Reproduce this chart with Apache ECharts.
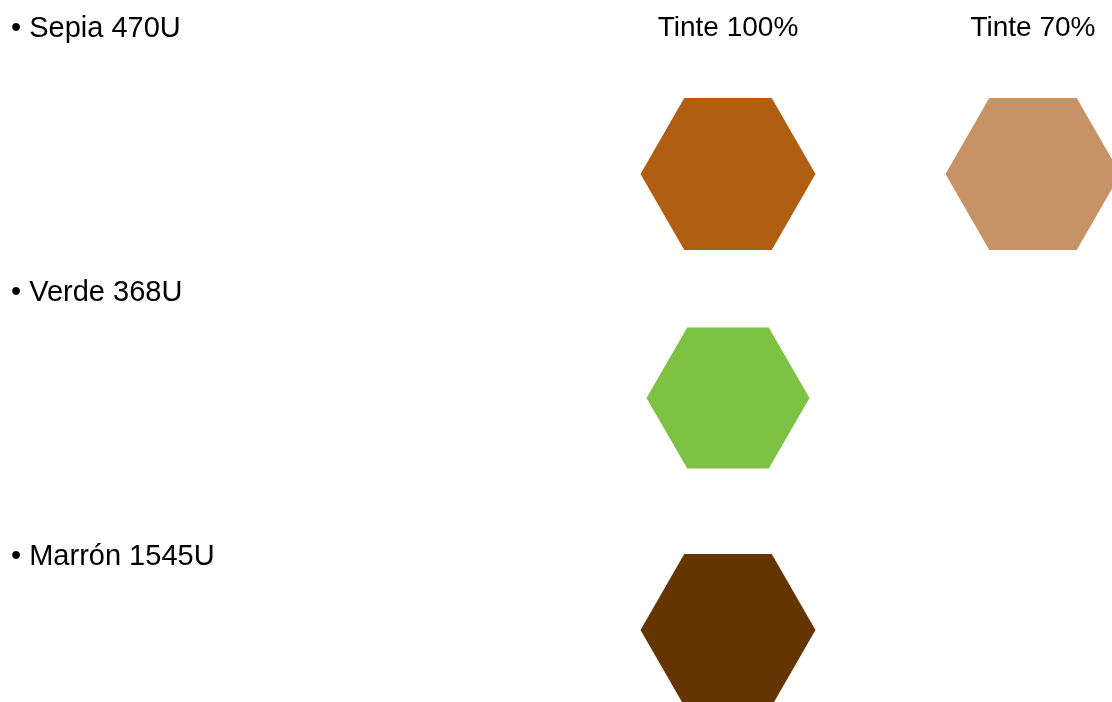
<!DOCTYPE html>
<html>
<head>
<meta charset="utf-8">
<title>Colores corporativos</title>
<script src="https://cdn.jsdelivr.net/npm/echarts@6/dist/echarts.min.js"></script>
<style>
  html, body { margin: 0; padding: 0; background: #fff; }
  #chart { width: 1112px; height: 702px; }
</style>
</head>
<body>
<div id="chart"></div>
<script>
// columnas (tintes) y filas (colores Pantone)
var tints = ['Tinte 100%', 'Tinte 70%']
var swatchNames = ['Sepia 470U', 'Verde 368U', 'Marrón 1545U']
// muestras: [columna, fila, color]
var sepiaRow = [['Tinte 100%', 'Sepia 470U', '#b05f12'], ['Tinte 70%', 'Sepia 470U', '#c89267']]
var verdeRow = [['Tinte 100%', 'Verde 368U', '#7dc243']]
var marronRow = [['Tinte 100%', 'Marrón 1545U', '#643500']]

var font = '"Liberation Sans", Arial, Helvetica, sans-serif'
// hexagono de lados planos arriba y abajo
var hexPath = 'path://M0,43.3L25,0L75,0L100,43.3L75,86.6L25,86.6Z'
var labelY = [26, 290, 554] // posicion vertical de cada rotulo de fila

var myChart = echarts.init(document.getElementById('chart'))

function hexSeries (data, size, offset) {
  return {
    type: 'scatter',
    clip: false,
    symbol: hexPath,
    symbolSize: size,
    symbolOffset: offset,
    itemStyle: {
      color: function (p) { return p.data[2] },
      opacity: 1
    },
    emphasis: { disabled: true },
    data: data
  }
}

var option = {
  backgroundColor: '#fff',
  animation: false,
  grid: {
    left: 728,
    right: 79,
    top: 174,
    bottom: 72,
    containLabel: false
  },
  xAxis: {
    type: 'category',
    position: 'top',
    boundaryGap: false,
    data: tints,
    axisLine: { show: false },
    axisTick: { show: false },
    splitLine: { show: false },
    axisLabel: {
      margin: 146,
      verticalAlign: 'middle',
      color: '#000',
      fontSize: 28,
      fontFamily: font
    }
  },
  yAxis: {
    type: 'category',
    inverse: true,
    boundaryGap: false,
    data: swatchNames,
    axisLine: { show: false },
    axisTick: { show: false },
    splitLine: { show: false },
    axisLabel: { show: false }
  },
  graphic: swatchNames.map(function (name, i) {
    return {
      type: 'text',
      left: 11,
      top: labelY[i] - 12,
      style: {
        text: '\u2022 ' + name,
        fill: '#000',
        font: '29px ' + font
      }
    }
  }),
  series: [
    hexSeries(sepiaRow.concat(marronRow), [175, 152], [0, 0]),
    hexSeries(verdeRow, [163, 141], [0, -4])
  ]
}
myChart.setOption(option, true)
</script>
</body>
</html>
